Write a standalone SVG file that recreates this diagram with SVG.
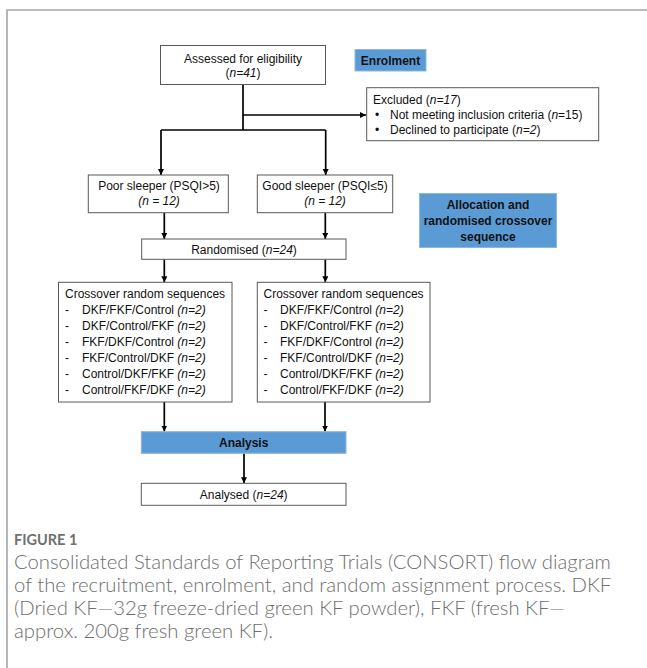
<svg xmlns="http://www.w3.org/2000/svg" width="647" height="668" viewBox="0 0 647 668">
<defs>
<marker id="ah" markerUnits="userSpaceOnUse" markerWidth="7" markerHeight="7" refX="6" refY="3" orient="auto">
<path d="M0,0 L6,3 L0,6 z" fill="#000"/>
</marker>
<style>
.box{fill:#fff;stroke:#595959;stroke-width:1}
.blue{fill:#5b9bd5;stroke:#8fb5dd;stroke-width:1}
.t{font-family:"Liberation Sans",Arial,sans-serif;font-size:12px;fill:#111}
.b{font-family:"Liberation Sans",Arial,sans-serif;font-size:12px;font-weight:bold;fill:#111}
.c{text-anchor:middle}
.i{font-style:italic}
.ln{stroke:#000;stroke-width:1.7;fill:none}
.ar{stroke:#000;stroke-width:1.7;fill:none;marker-end:url(#ah)}
.cap{font-family:Lato,"Open Sans",sans-serif;font-size:20.3px;font-weight:300;fill:#6e6e6e}
.fig{font-family:Lato,"Open Sans",sans-serif;font-size:14.5px;font-weight:bold;fill:#707070}
.frame{stroke:#a8a8a8;stroke-width:1.7;fill:none}
</style>
</defs>
<path class="frame" d="M7,668 L7,10 L647,10"/>
<g id="connectors">
<path class="ln" d="M243,84.5 L243,130"/>
<path class="ar" d="M243,115 L366,115"/>
<path class="ln" d="M161,130 L325.7,130"/>
<path class="ar" d="M161,130 L161,175"/>
<path class="ar" d="M325.7,130 L325.7,175"/>
<path class="ar" d="M164.3,212.7 L164.3,239"/>
<path class="ar" d="M325.3,212.7 L325.3,239"/>
<path class="ar" d="M164.3,259.3 L164.3,282.3"/>
<path class="ar" d="M325.3,259.3 L325.3,282.3"/>
<path class="ar" d="M164.3,402 L164.3,431.5"/>
<path class="ar" d="M325,402 L325,431.5"/>
<path class="ar" d="M244,453.3 L244,483.3"/>
</g>
<g id="assessed">
<rect class="box" x="160.5" y="45.5" width="165" height="39"/>
<text class="t c" x="243" y="62.5">Assessed for eligibility</text>
<text class="t c" x="243" y="77">(<tspan class="i">n=41</tspan>)</text>
</g>
<g id="enrolment">
<rect class="blue" x="355" y="49.5" width="71" height="21.5"/>
<text class="b c" x="390.5" y="64.5">Enrolment</text>
</g>
<g id="excluded">
<rect class="box" x="366.7" y="87.7" width="232" height="53"/>
<text class="t" x="373" y="104">Excluded (<tspan class="i">n=17</tspan>)</text>
<text class="t" x="375" y="119">•</text>
<text class="t" x="390" y="119">Not meeting inclusion criteria (<tspan class="i">n</tspan>=15)</text>
<text class="t" x="375" y="133.5">•</text>
<text class="t" x="390" y="133.5">Declined to participate (<tspan class="i">n=2</tspan>)</text>
</g>
<g id="poor">
<rect class="box" x="88.3" y="175" width="140" height="37.7"/>
<text class="t c" x="159" y="190">Poor sleeper (PSQI&gt;5)</text>
<text class="t c i" x="159" y="204.5">(n = 12)</text>
</g>
<g id="good">
<rect class="box" x="257.3" y="175" width="135.4" height="37.7"/>
<text class="t c" x="325" y="190">Good sleeper (PSQI≤5)</text>
<text class="t c i" x="325" y="204.5">(n = 12)</text>
</g>
<g id="allocation">
<rect class="blue" x="419.5" y="193.5" width="137" height="54"/>
<text class="b c" x="488" y="209">Allocation and</text>
<text class="b c" x="488" y="225">randomised crossover</text>
<text class="b c" x="488" y="241">sequence</text>
</g>
<g id="randomised">
<rect class="box" x="141.7" y="239" width="204.3" height="20.3"/>
<text class="t c" x="244" y="253.5">Randomised (<tspan class="i">n=24</tspan>)</text>
</g>
<g id="seqLeft">
<rect class="box" x="58.5" y="282.3" width="173.5" height="119.7"/>
<text class="t" x="65" y="298">Crossover random sequences</text>
<text class="t" x="65" y="314">-</text><text class="t" x="82" y="314">DKF/FKF/Control <tspan class="i">(n=2)</tspan></text>
<text class="t" x="65" y="330">-</text><text class="t" x="82" y="330">DKF/Control/FKF <tspan class="i">(n=2)</tspan></text>
<text class="t" x="65" y="346">-</text><text class="t" x="82" y="346">FKF/DKF/Control <tspan class="i">(n=2)</tspan></text>
<text class="t" x="65" y="362">-</text><text class="t" x="82" y="362">FKF/Control/DKF <tspan class="i">(n=2)</tspan></text>
<text class="t" x="65" y="378">-</text><text class="t" x="82" y="378">Control/DKF/FKF <tspan class="i">(n=2)</tspan></text>
<text class="t" x="65" y="394">-</text><text class="t" x="82" y="394">Control/FKF/DKF <tspan class="i">(n=2)</tspan></text>
</g>
<g id="seqRight">
<rect class="box" x="257.3" y="282.3" width="172.7" height="119.7"/>
<text class="t" x="263.5" y="298">Crossover random sequences</text>
<text class="t" x="263.5" y="314">-</text><text class="t" x="280" y="314">DKF/FKF/Control <tspan class="i">(n=2)</tspan></text>
<text class="t" x="263.5" y="330">-</text><text class="t" x="280" y="330">DKF/Control/FKF <tspan class="i">(n=2)</tspan></text>
<text class="t" x="263.5" y="346">-</text><text class="t" x="280" y="346">FKF/DKF/Control <tspan class="i">(n=2)</tspan></text>
<text class="t" x="263.5" y="362">-</text><text class="t" x="280" y="362">FKF/Control/DKF <tspan class="i">(n=2)</tspan></text>
<text class="t" x="263.5" y="378">-</text><text class="t" x="280" y="378">Control/DKF/FKF <tspan class="i">(n=2)</tspan></text>
<text class="t" x="263.5" y="394">-</text><text class="t" x="280" y="394">Control/FKF/DKF <tspan class="i">(n=2)</tspan></text>
</g>
<g id="analysis">
<rect class="blue" x="141.3" y="431.7" width="204.7" height="21.6"/>
<text class="b c" x="243.7" y="447">Analysis</text>
</g>
<g id="analysed">
<rect class="box" x="141.3" y="483.3" width="204.7" height="22"/>
<text class="t c" x="243.7" y="498.5">Analysed (<tspan class="i">n=24</tspan>)</text>
</g>
<g id="caption">
<text class="fig" x="14" y="545">FIGURE 1</text>
<text class="cap" x="14" y="569">Consolidated Standards of Reporting Trials (CONSORT) flow diagram</text>
<text class="cap" x="14" y="592">of the recruitment, enrolment, and random assignment process. DKF</text>
<text class="cap" x="14" y="615">(Dried KF—32g freeze-dried green KF powder), FKF (fresh KF—</text>
<text class="cap" x="14" y="638">approx. 200g fresh green KF).</text>
</g>
</svg>
